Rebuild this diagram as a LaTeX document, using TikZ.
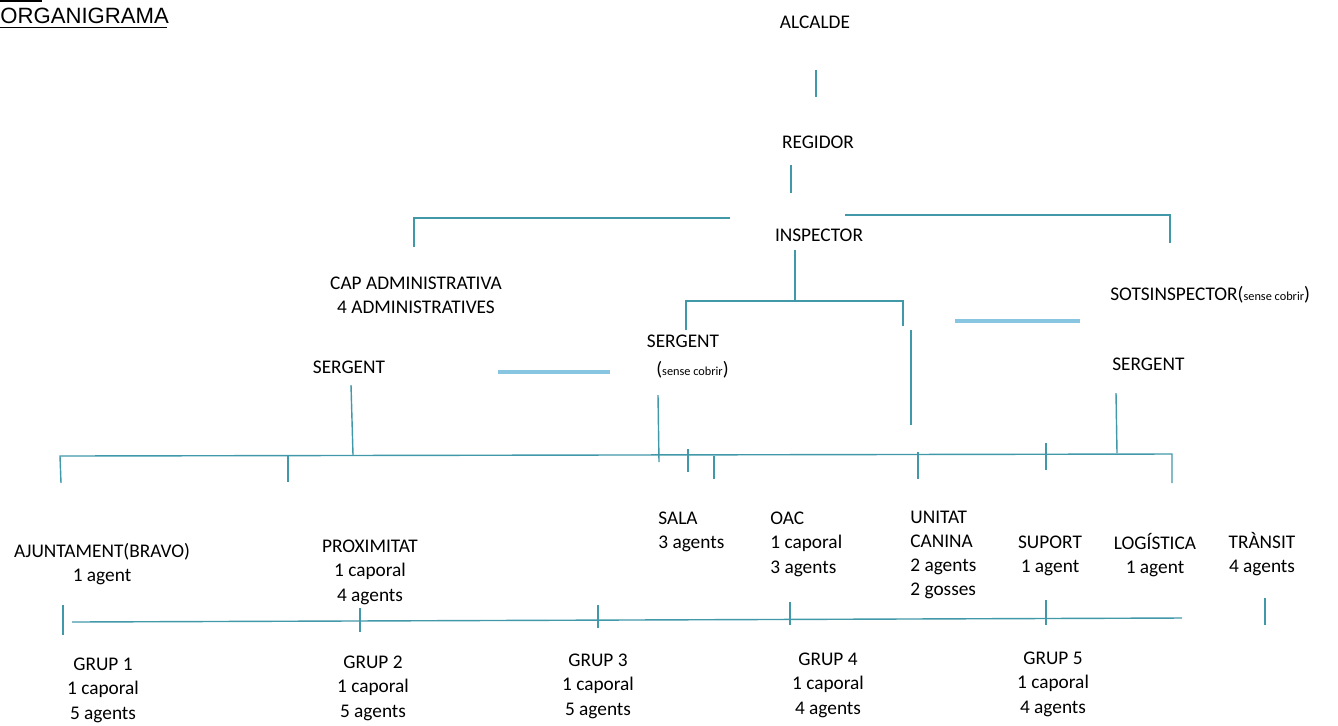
\documentclass[tikz,border=0pt]{standalone}
\usepackage{fontspec}
\setmainfont{Carlito}
\newfontfamily\headfont{Liberation Sans}
\usetikzlibrary{positioning}
\definecolor{orgline}{RGB}{64,152,168}
\definecolor{smudge}{RGB}{96,178,214}
\newcommand{\scnote}[1]{{\fontsize{7}{8}\selectfont #1}}

\begin{document}
\begin{tikzpicture}[x=0.02cm, y=-0.02cm,
	lbl/.style={inner sep=0pt, anchor=north, align=center, font=\fontsize{11}{13.7}\selectfont},
	lbll/.style={lbl, anchor=north west, align=left},
	ln/.style={orgline, line width=0.8pt},
	blot/.style={smudge, line width=2.6pt, opacity=0.75}]
		\useasboundingbox (0,0) rectangle (1338,725);

		% title
		\node[inner sep=0pt, anchor=base west, font=\headfont\fontsize{12.6}{14}\selectfont] (title) at (0,23.5) {ORGANIGRAMA};
		\coordinate (tulA) at (0,27.5);
		\coordinate (tulB) at (167,27.5);
		\draw[black, line width=0.9pt] (tulA) -- (tulB);
		\coordinate (tcutA) at (0,1);
		\coordinate (tcutB) at (42,1);
		\draw[black, line width=0.9pt] (tcutA) -- (tcutB);

		% top levels
		\node[lbl] (alcalde) at (815,16) {ALCALDE};
		\node[lbl] (regidor) at (818,136) {REGIDOR};
		\node[lbl] (inspector) at (819,229) {INSPECTOR};
		\node[lbl] (capadm) at (416,277) {CAP ADMINISTRATIVA\\4 ADMINISTRATIVES};
		\node[lbll] (sotsinsp) at (1110,286) {SOTSINSPECTOR(\scnote{sense cobrir})};
		\node[lbl] (sergL) at (349,361) {SERGENT};
		\node[lbl] (sergM) at (683,335) {SERGENT};
		\node[lbll] (sergMnote) at (656,361) {(\scnote{sense cobrir})};
		\node[lbll] (sergR) at (1112,358) {SERGENT};

		% units
		\node[lbl] (ajunt) at (102,543) {AJUNTAMENT(BRAVO)\\1 agent};
		\node[lbl] (proxim) at (370,540) {PROXIMITAT\\1 caporal\\4 agents};
		\node[lbll] (sala) at (658,512) {SALA\\3 agents};
		\node[lbll] (oac) at (770,512) {OAC\\1 caporal\\3 agents};
		\node[lbll] (canina) at (910,511) {UNITAT\\CANINA\\2 agents\\2 gosses};
		\node[lbl] (suport) at (1050,536) {SUPORT\\1 agent};
		\node[lbl] (logist) at (1155,533) {LOGÍSTICA\\1 agent};
		\node[lbl] (transit) at (1262,532) {TRÀNSIT\\4 agents};

		% groups
		\foreach \x/\y/\ag [count=\i] in {103/658/5, 373/656/5, 598/654/5, 828/653/4, 1053/652/4}
			\node[lbl] (grup\i) at (\x,\y) {GRUP \i\\1 caporal\\\ag\ agents};

		% connectors
		\coordinate (alcA) at (816,70);
		\coordinate (alcB) at (816,97);
		\draw[ln] (alcA) -- (alcB);
		\coordinate (regA) at (791,165);
		\coordinate (regB) at (791,193);
		\draw[ln] (regA) -- (regB);
		\coordinate (admA) at (730,218);
		\coordinate (admB) at (414,218);
		\coordinate (admC) at (414,247);
		\draw[ln] (admA) -- (admB) -- (admC);
		\coordinate (sotA) at (845,215);
		\coordinate (sotB) at (1170,215);
		\coordinate (sotC) at (1170,243);
		\draw[ln] (sotA) -- (sotB) -- (sotC);
		\coordinate (insA) at (795,250);
		\coordinate (insB) at (795,301);
		\draw[ln] (insA) -- (insB);
		\coordinate (brA) at (686,330);
		\coordinate (brB) at (686,301);
		\coordinate (brC) at (903,301);
		\coordinate (brD) at (903,326);
		\draw[ln] (brA) -- (brB) -- (brC) -- (brD);
		\coordinate (canA) at (911,330);
		\coordinate (canB) at (911,425);
		\draw[ln] (canA) -- (canB);
		\coordinate (sLA) at (351,385);
		\coordinate (sLB) at (353,455);
		\draw[ln] (sLA) -- (sLB);
		\coordinate (sMA) at (658,395);
		\coordinate (sMB) at (659,462);
		\draw[ln] (sMA) -- (sMB);
		\coordinate (sRA) at (1116,393);
		\coordinate (sRB) at (1117,453);
		\draw[ln] (sRA) -- (sRB);

		% upper bus
		\coordinate (busLd) at (61,483);
		\coordinate (busL) at (60,456);
		\coordinate (busR) at (1172,454);
		\coordinate (busRd) at (1172,483);
		\draw[ln] (busLd) -- (busL) -- (busR) -- (busRd);
		\foreach \x/\ya/\yb [count=\i] in {288/456/482, 688/449/472, 714/456/479, 918/452/479, 1046/443/470} {
			\coordinate (tu\i a) at (\x,\ya);
			\coordinate (tu\i b) at (\x,\yb);
			\draw[ln] (tu\i a) -- (tu\i b);
		}

		% lower bus
		\coordinate (gbusL) at (72,622);
		\coordinate (gbusR) at (1182,618);
		\draw[ln] (gbusL) -- (gbusR);
		\foreach \x/\ya/\yb [count=\i] in {63/605/635, 360/608/632, 598/605/628, 790/602/625, 1046/600/625, 1265/598/625} {
			\coordinate (tl\i a) at (\x,\ya);
			\coordinate (tl\i b) at (\x,\yb);
			\draw[ln] (tl\i a) -- (tl\i b);
		}

		% blots
		\coordinate (blA) at (498,372);
		\coordinate (blB) at (610,372);
		\draw[blot] (blA) -- (blB);
		\coordinate (blC) at (955,321);
		\coordinate (blD) at (1080,321);
		\draw[blot] (blC) -- (blD);
	\end{tikzpicture}
\end{document}
